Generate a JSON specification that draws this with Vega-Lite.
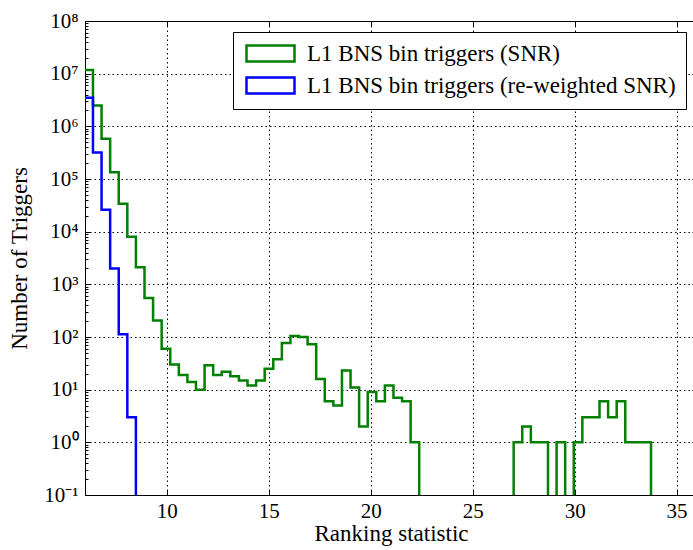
{
  "$schema": "https://vega.github.io/schema/vega-lite/v6.json",
  "width": 612,
  "height": 474,
  "autosize": {"type": "none"},
  "padding": {"left": 85, "top": 21, "right": 0, "bottom": 55},
  "config": {
    "font": "Liberation Serif",
    "axis": {"labelFont": "Liberation Serif", "titleFont": "Liberation Serif"},
    "legend": {"labelFont": "Liberation Serif", "titleFont": "Liberation Serif"},
    "view": {"stroke": "black", "strokeWidth": 1}
  },
  "datasets": {
    "hist": [
      {"series": "L1 BNS bin triggers (SNR)", "x": 5.960, "count": 11800000},
      {"series": "L1 BNS bin triggers (SNR)", "x": 6.381, "count": 2500000},
      {"series": "L1 BNS bin triggers (SNR)", "x": 6.802, "count": 580000},
      {"series": "L1 BNS bin triggers (SNR)", "x": 7.223, "count": 134000},
      {"series": "L1 BNS bin triggers (SNR)", "x": 7.644, "count": 34000},
      {"series": "L1 BNS bin triggers (SNR)", "x": 8.065, "count": 8000},
      {"series": "L1 BNS bin triggers (SNR)", "x": 8.486, "count": 2100},
      {"series": "L1 BNS bin triggers (SNR)", "x": 8.907, "count": 553},
      {"series": "L1 BNS bin triggers (SNR)", "x": 9.328, "count": 206},
      {"series": "L1 BNS bin triggers (SNR)", "x": 9.749, "count": 60},
      {"series": "L1 BNS bin triggers (SNR)", "x": 10.170, "count": 30},
      {"series": "L1 BNS bin triggers (SNR)", "x": 10.591, "count": 19},
      {"series": "L1 BNS bin triggers (SNR)", "x": 11.012, "count": 14},
      {"series": "L1 BNS bin triggers (SNR)", "x": 11.433, "count": 10},
      {"series": "L1 BNS bin triggers (SNR)", "x": 11.854, "count": 29},
      {"series": "L1 BNS bin triggers (SNR)", "x": 12.275, "count": 19},
      {"series": "L1 BNS bin triggers (SNR)", "x": 12.696, "count": 22},
      {"series": "L1 BNS bin triggers (SNR)", "x": 13.117, "count": 18},
      {"series": "L1 BNS bin triggers (SNR)", "x": 13.538, "count": 15},
      {"series": "L1 BNS bin triggers (SNR)", "x": 13.959, "count": 12},
      {"series": "L1 BNS bin triggers (SNR)", "x": 14.380, "count": 15},
      {"series": "L1 BNS bin triggers (SNR)", "x": 14.801, "count": 25},
      {"series": "L1 BNS bin triggers (SNR)", "x": 15.222, "count": 38},
      {"series": "L1 BNS bin triggers (SNR)", "x": 15.643, "count": 77},
      {"series": "L1 BNS bin triggers (SNR)", "x": 16.064, "count": 105},
      {"series": "L1 BNS bin triggers (SNR)", "x": 16.485, "count": 100},
      {"series": "L1 BNS bin triggers (SNR)", "x": 16.906, "count": 73},
      {"series": "L1 BNS bin triggers (SNR)", "x": 17.327, "count": 16},
      {"series": "L1 BNS bin triggers (SNR)", "x": 17.748, "count": 6},
      {"series": "L1 BNS bin triggers (SNR)", "x": 18.169, "count": 5},
      {"series": "L1 BNS bin triggers (SNR)", "x": 18.590, "count": 23},
      {"series": "L1 BNS bin triggers (SNR)", "x": 19.011, "count": 11},
      {"series": "L1 BNS bin triggers (SNR)", "x": 19.432, "count": 2},
      {"series": "L1 BNS bin triggers (SNR)", "x": 19.853, "count": 9},
      {"series": "L1 BNS bin triggers (SNR)", "x": 20.274, "count": 6},
      {"series": "L1 BNS bin triggers (SNR)", "x": 20.695, "count": 12},
      {"series": "L1 BNS bin triggers (SNR)", "x": 21.116, "count": 7},
      {"series": "L1 BNS bin triggers (SNR)", "x": 21.537, "count": 6},
      {"series": "L1 BNS bin triggers (SNR)", "x": 21.958, "count": 1},
      {"series": "L1 BNS bin triggers (SNR)", "x": 22.379, "count": 0},
      {"series": "L1 BNS bin triggers (SNR)", "x": 22.800, "count": 0},
      {"series": "L1 BNS bin triggers (SNR)", "x": 23.221, "count": 0},
      {"series": "L1 BNS bin triggers (SNR)", "x": 23.642, "count": 0},
      {"series": "L1 BNS bin triggers (SNR)", "x": 24.063, "count": 0},
      {"series": "L1 BNS bin triggers (SNR)", "x": 24.484, "count": 0},
      {"series": "L1 BNS bin triggers (SNR)", "x": 24.905, "count": 0},
      {"series": "L1 BNS bin triggers (SNR)", "x": 25.326, "count": 0},
      {"series": "L1 BNS bin triggers (SNR)", "x": 25.747, "count": 0},
      {"series": "L1 BNS bin triggers (SNR)", "x": 26.168, "count": 0},
      {"series": "L1 BNS bin triggers (SNR)", "x": 26.589, "count": 0},
      {"series": "L1 BNS bin triggers (SNR)", "x": 27.010, "count": 1},
      {"series": "L1 BNS bin triggers (SNR)", "x": 27.431, "count": 2},
      {"series": "L1 BNS bin triggers (SNR)", "x": 27.852, "count": 1},
      {"series": "L1 BNS bin triggers (SNR)", "x": 28.273, "count": 1},
      {"series": "L1 BNS bin triggers (SNR)", "x": 28.694, "count": 0},
      {"series": "L1 BNS bin triggers (SNR)", "x": 29.115, "count": 1},
      {"series": "L1 BNS bin triggers (SNR)", "x": 29.536, "count": 0},
      {"series": "L1 BNS bin triggers (SNR)", "x": 29.957, "count": 1},
      {"series": "L1 BNS bin triggers (SNR)", "x": 30.378, "count": 3},
      {"series": "L1 BNS bin triggers (SNR)", "x": 30.799, "count": 3},
      {"series": "L1 BNS bin triggers (SNR)", "x": 31.220, "count": 6},
      {"series": "L1 BNS bin triggers (SNR)", "x": 31.641, "count": 3},
      {"series": "L1 BNS bin triggers (SNR)", "x": 32.062, "count": 6},
      {"series": "L1 BNS bin triggers (SNR)", "x": 32.483, "count": 1},
      {"series": "L1 BNS bin triggers (SNR)", "x": 32.904, "count": 1},
      {"series": "L1 BNS bin triggers (SNR)", "x": 33.325, "count": 1},
      {"series": "L1 BNS bin triggers (SNR)", "x": 33.746, "count": 0},
      {"series": "L1 BNS bin triggers (re-weighted SNR)", "x": 5.960, "count": 3500000},
      {"series": "L1 BNS bin triggers (re-weighted SNR)", "x": 6.381, "count": 320000},
      {"series": "L1 BNS bin triggers (re-weighted SNR)", "x": 6.802, "count": 26000},
      {"series": "L1 BNS bin triggers (re-weighted SNR)", "x": 7.223, "count": 2000},
      {"series": "L1 BNS bin triggers (re-weighted SNR)", "x": 7.644, "count": 113},
      {"series": "L1 BNS bin triggers (re-weighted SNR)", "x": 8.065, "count": 3},
      {"series": "L1 BNS bin triggers (re-weighted SNR)", "x": 8.486, "count": 0}
    ]
  },
  "data": {"name": "hist"},
  "transform": [
    {"calculate": "datum.count > 0 ? datum.count : 0.01", "as": "shown"}
  ],
  "layer": [
    {
      "transform": [{"filter": "datum.series == 'L1 BNS bin triggers (SNR)'"}],
      "mark": {"type": "line", "interpolate": "step-after", "clip": true, "strokeWidth": 2.5, "strokeJoin": "miter", "strokeCap": "butt"},
      "encoding": {
        "x": {
          "field": "x", "type": "quantitative",
          "scale": {"domain": [5.99, 36], "nice": false, "zero": false},
          "axis": {
            "orient": "bottom",
            "title": "Ranking statistic",
            "titleFont": "Liberation Serif", "titleFontSize": 23, "titleFontWeight": "normal", "titleColor": "black", "titlePadding": 1,
            "values": [10, 15, 20, 25, 30, 35],
            "labelFont": "Liberation Serif", "labelFontSize": 21, "labelColor": "black", "labelPadding": 10, "labelFlush": false, "labelOverlap": false,
            "domain": false,
            "grid": true, "gridColor": "black", "gridDash": [1.5, 3], "gridWidth": 1, "gridOpacity": 1,
            "ticks": true, "tickSize": -5, "tickColor": "black", "tickWidth": 1
          }
        },
        "y": {
          "field": "shown", "type": "quantitative",
          "scale": {"type": "log", "domain": [0.1, 100000000], "nice": false},
          "axis": {
            "orient": "left",
            "title": "Number of Triggers",
            "titleFont": "Liberation Serif", "titleFontSize": 23, "titleFontWeight": "normal", "titleColor": "black", "titlePadding": 12,
            "values": [0.1,0.2,0.3,0.4,0.5,0.6,0.7,0.8,0.9,1,2,3,4,5,6,7,8,9,10,20,30,40,50,60,70,80,90,100,200,300,400,500,600,700,800,900,1000,2000,3000,4000,5000,6000,7000,8000,9000,10000,20000,30000,40000,50000,60000,70000,80000,90000,100000,200000,300000,400000,500000,600000,700000,800000,900000,1000000,2000000,3000000,4000000,5000000,6000000,7000000,8000000,9000000,10000000,20000000,30000000,40000000,50000000,60000000,70000000,80000000,90000000,100000000],
            "labelExpr": "abs(log(datum.value)/LN10 - round(log(datum.value)/LN10)) < 0.001 ? '10' + ['⁻¹','⁰','¹','²','³','⁴','⁵','⁶','⁷','⁸'][round(log(datum.value)/LN10) + 1] : ''",
            "labelFont": "Liberation Serif", "labelFontSize": 21, "labelColor": "black", "labelPadding": 12, "labelFlush": false, "labelOverlap": false, "labelBound": false,
            "domain": false,
            "grid": true, "gridColor": "black", "gridDash": [1.5, 3], "gridWidth": 1,
            "gridOpacity": {"condition": {"test": "abs(log(datum.value)/LN10 - round(log(datum.value)/LN10)) < 0.001", "value": 1}, "value": 0},
            "ticks": true, "tickColor": "black", "tickWidth": 1,
            "tickSize": {"condition": {"test": "abs(log(datum.value)/LN10 - round(log(datum.value)/LN10)) < 0.001", "value": -5}, "value": -3}
          }
        },
        "stroke": {
          "field": "series", "type": "nominal",
          "scale": {"domain": ["L1 BNS bin triggers (SNR)", "L1 BNS bin triggers (re-weighted SNR)"], "range": ["#008000", "#0000ff"]},
          "legend": {
            "title": null,
            "orient": "none", "legendX": 148, "legendY": 11,
            "padding": 10, "fillColor": "white", "strokeColor": "black", "cornerRadius": 0,
            "symbolType": "M-1,-1H5V1H-1Z", "symbolSize": 256, "symbolStrokeWidth": 2.5, "symbolFillColor": "transparent",
            "labelOffset": 41, "labelFont": "Liberation Serif", "labelFontSize": 23, "labelColor": "black", "labelLimit": 0,
            "rowPadding": 5
          }
        }
      }
    },
    {
      "transform": [{"filter": "datum.series == 'L1 BNS bin triggers (re-weighted SNR)'"}],
      "mark": {"type": "line", "interpolate": "step-after", "clip": true, "strokeWidth": 2.5, "strokeJoin": "miter", "strokeCap": "butt"},
      "encoding": {
        "x": {
          "field": "x", "type": "quantitative",
          "axis": {
            "orient": "top", "title": null, "labels": false, "grid": false, "domain": false,
            "values": [10, 15, 20, 25, 30, 35],
            "ticks": true, "tickSize": -5, "tickColor": "black", "tickWidth": 1
          }
        },
        "y": {
          "field": "shown", "type": "quantitative",
          "axis": {
            "orient": "right", "title": null, "labels": false, "grid": false, "domain": false,
            "values": [0.1,0.2,0.3,0.4,0.5,0.6,0.7,0.8,0.9,1,2,3,4,5,6,7,8,9,10,20,30,40,50,60,70,80,90,100,200,300,400,500,600,700,800,900,1000,2000,3000,4000,5000,6000,7000,8000,9000,10000,20000,30000,40000,50000,60000,70000,80000,90000,100000,200000,300000,400000,500000,600000,700000,800000,900000,1000000,2000000,3000000,4000000,5000000,6000000,7000000,8000000,9000000,10000000,20000000,30000000,40000000,50000000,60000000,70000000,80000000,90000000,100000000],
            "ticks": true, "tickColor": "black", "tickWidth": 1,
            "tickSize": {"condition": {"test": "abs(log(datum.value)/LN10 - round(log(datum.value)/LN10)) < 0.001", "value": -5}, "value": -3}
          }
        },
        "stroke": {"field": "series", "type": "nominal"}
      }
    }
  ],
  "resolve": {"axis": {"x": "independent", "y": "independent"}}
}
